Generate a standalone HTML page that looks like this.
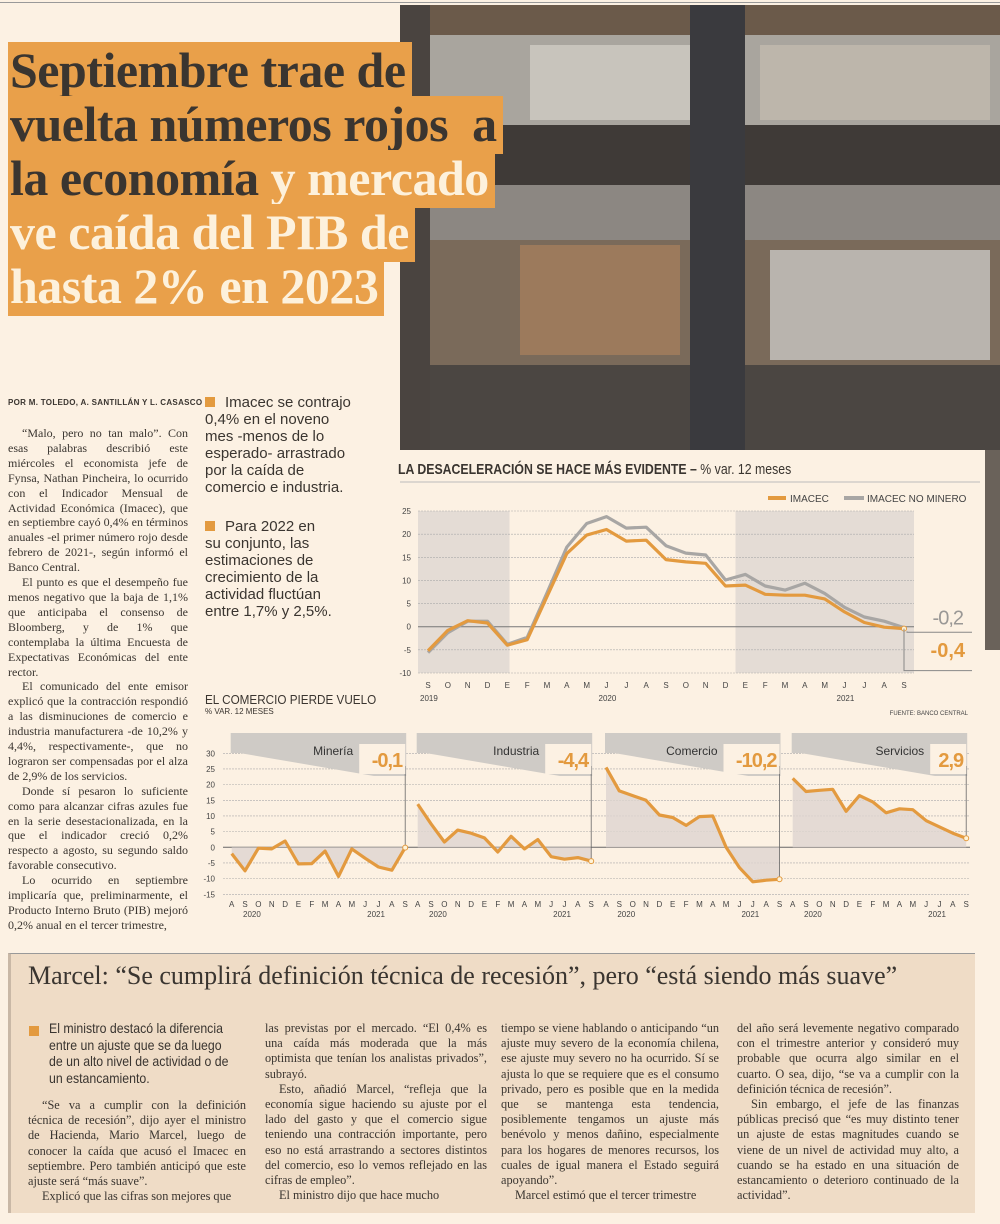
<!DOCTYPE html>
<html><head><meta charset="utf-8">
<style>
body{margin:0;width:1000px;height:1224px;background:#fcf1e3;position:relative;overflow:hidden;font-family:"Liberation Serif",serif;color:#3a3530}
.abs{position:absolute}
.ttl{position:absolute;left:8px;font:bold 50px/52px "Liberation Serif",serif;white-space:nowrap;letter-spacing:-0.5px}
.ttl span{background:#e9a04a;padding:0 6px 2px 2px}
.col{position:absolute;font-size:12px;line-height:14.9px;text-align:justify;color:#3a3530}
.col p{margin:0;text-indent:14px}
.bul{position:absolute;font:15px/17px "Liberation Sans",sans-serif;color:#3a3530}
.sq{display:inline-block;width:10px;height:10px;background:#e39a3f;margin-right:10px}
</style></head><body>
<div class="abs" style="left:0;top:2px;width:1000px;height:1px;background:#999"></div>

<!-- photo -->
<div class="abs" style="left:400px;top:5px;width:600px;height:445px;background:#57524d;overflow:hidden">
 <div class="abs" style="left:0;top:0;width:600px;height:30px;background:#6b5a4a"></div>
 <div class="abs" style="left:0;top:30px;width:600px;height:90px;background:#a9a59e"></div>
 <div class="abs" style="left:130px;top:40px;width:160px;height:75px;background:#c8c4bc"></div>
 <div class="abs" style="left:360px;top:40px;width:230px;height:75px;background:#bdb6ab"></div>
 <div class="abs" style="left:0;top:120px;width:600px;height:60px;background:#3f3a37"></div>
 <div class="abs" style="left:0;top:180px;width:600px;height:55px;background:#8c8782"></div>
 <div class="abs" style="left:0;top:235px;width:600px;height:125px;background:#7a6a5a"></div>
 <div class="abs" style="left:120px;top:240px;width:160px;height:110px;background:#9c7a5c"></div>
 <div class="abs" style="left:370px;top:245px;width:220px;height:110px;background:#b9b4ae"></div>
 <div class="abs" style="left:0;top:360px;width:600px;height:85px;background:#4b4642"></div>
 <div class="abs" style="left:290px;top:0;width:55px;height:445px;background:#3a3a3e"></div>
 <div class="abs" style="left:0;top:0;width:30px;height:445px;background:#4a4440"></div>
</div>
<div class="abs" style="left:985px;top:450px;width:15px;height:200px;background:#6a625a"></div>

<!-- title -->
<div class="ttl" style="top:44px"><span>Septiembre trae de</span></div>
<div class="ttl" style="top:98px"><span>vuelta números rojos &nbsp;a</span></div>
<div class="ttl" style="top:152px"><span>la economía <b style="color:#fdf1dc">y mercado</b></span></div>
<div class="ttl" style="top:206px;color:#fdf1dc"><span>ve caída del PIB de</span></div>
<div class="ttl" style="top:260px;color:#fdf1dc"><span>hasta 2% en 2023</span></div>

<!-- byline & left column -->
<div class="abs" style="left:8px;top:398px;font:bold 8px 'Liberation Sans',sans-serif;letter-spacing:.3px">POR M. TOLEDO, A. SANTILLÁN Y L. CASASCO</div>
<div class="col" style="left:8px;top:426px;width:180px">
<p>“Malo, pero no tan malo”. Con esas palabras describió este miércoles el economista jefe de Fynsa, Nathan Pincheira, lo ocurrido con el Indicador Mensual de Actividad Económica (Imacec), que en septiembre cayó 0,4% en términos anuales -el primer número rojo desde febrero de 2021-, según informó el Banco Central.</p>
<p>El punto es que el desempeño fue menos negativo que la baja de 1,1% que anticipaba el consenso de Bloomberg, y de 1% que contemplaba la última Encuesta de Expectativas Económicas del ente rector.</p>
<p>El comunicado del ente emisor explicó que la contracción respondió a las disminuciones de comercio e industria manufacturera -de 10,2% y 4,4%, respectivamente-, que no lograron ser compensadas por el alza de 2,9% de los servicios.</p>
<p>Donde sí pesaron lo suficiente como para alcanzar cifras azules fue en la serie desestacionalizada, en la que el indicador creció 0,2% respecto a agosto, su segundo saldo favorable consecutivo.</p>
<p>Lo ocurrido en septiembre implicaría que, preliminarmente, el Producto Interno Bruto (PIB) mejoró 0,2% anual en el tercer trimestre,</p>
</div>

<div class="bul" style="left:205px;top:394px;width:185px"><span class="sq"></span>Imacec se contrajo<br>0,4% en el noveno<br>mes -menos de lo<br>esperado- arrastrado<br>por la caída de<br>comercio e industria.</div>
<div class="bul" style="left:205px;top:518px;width:185px"><span class="sq"></span>Para 2022 en<br>su conjunto, las<br>estimaciones de<br>crecimiento de la<br>actividad fluctúan<br>entre 1,7% y 2,5%.</div>

<!-- main chart -->
<div class="abs" style="left:398px;top:461px;font:bold 15px 'Liberation Sans',sans-serif;color:#3a3530;transform:scaleX(.82);transform-origin:left;white-space:nowrap">LA DESACELERACIÓN SE HACE MÁS EVIDENTE – <span style="font-weight:normal">% var. 12 meses</span></div>
<svg id="main" class="abs" style="left:395px;top:480px" width="605" height="240"></svg>

<div class="abs" style="left:205px;top:692px;font:13px 'Liberation Sans',sans-serif;transform:scaleX(.9);transform-origin:left;white-space:nowrap">EL COMERCIO PIERDE VUELO</div>
<div class="abs" style="left:205px;top:707px;font:8px 'Liberation Sans',sans-serif">% VAR. 12 MESES</div>
<svg id="small" class="abs" style="left:195px;top:720px" width="800" height="210"></svg>

<!-- bottom box -->
<div class="abs" style="left:8px;top:953px;width:964px;height:259px;background:#efdcc6;border-left:3px solid #c9b8a6;border-top:1px solid #999">
 <div class="abs" style="left:17px;top:7px;font:26px 'Liberation Serif',serif;white-space:nowrap;color:#3a3530">Marcel: “Se cumplirá definición técnica de recesión”, pero “está siendo más suave”</div>
 <div class="abs" style="left:18px;top:72px;width:10px;height:10px;background:#e39a3f"></div>
 <div class="bul" style="left:38px;top:66px;font-size:14px;line-height:16.5px;white-space:nowrap;transform:scaleX(.88);transform-origin:left">El ministro destacó la diferencia<br>entre un ajuste que se da luego<br>de un alto nivel de actividad o de<br>un estancamiento.</div>
 <div class="col" style="left:17px;top:144px;width:218px;font-size:12.3px;line-height:15.2px"><p>“Se va a cumplir con la definición técnica de recesión”, dijo ayer el ministro de Hacienda, Mario Marcel, luego de conocer la caída que acusó el Imacec en septiembre. Pero también anticipó que este ajuste será “más suave”.</p><p>Explicó que las cifras son mejores que</p></div>
 <div class="col" style="left:254px;top:67px;width:222px;font-size:12.3px;line-height:15.2px"><p style="text-indent:0">las previstas por el mercado. “El 0,4% es una caída más moderada que la más optimista que tenían los analistas privados”, subrayó.</p><p>Esto, añadió Marcel, “refleja que la economía sigue haciendo su ajuste por el lado del gasto y que el comercio sigue teniendo una contracción importante, pero eso no está arrastrando a sectores distintos del comercio, eso lo vemos reflejado en las cifras de empleo”.</p><p>El ministro dijo que hace mucho</p></div>
 <div class="col" style="left:490px;top:67px;width:218px;font-size:12.3px;line-height:15.2px"><p style="text-indent:0">tiempo se viene hablando o anticipando “un ajuste muy severo de la economía chilena, ese ajuste muy severo no ha ocurrido. Sí se ajusta lo que se requiere que es el consumo privado, pero es posible que en la medida que se mantenga esta tendencia, posiblemente tengamos un ajuste más benévolo y menos dañino, especialmente para los hogares de menores recursos, los cuales de igual manera el Estado seguirá apoyando”.</p><p>Marcel estimó que el tercer trimestre</p></div>
 <div class="col" style="left:726px;top:67px;width:222px;font-size:12.3px;line-height:15.2px"><p style="text-indent:0">del año será levemente negativo comparado con el trimestre anterior y consideró muy probable que ocurra algo similar en el cuarto. O sea, dijo, “se va a cumplir con la definición técnica de recesión”.</p><p>Sin embargo, el jefe de las finanzas públicas precisó que “es muy distinto tener un ajuste de estas magnitudes cuando se viene de un nivel de actividad muy alto, a cuando se ha estado en una situación de estancamiento o deterioro continuado de la actividad”.</p></div>
</div>

<script>
// ---- main chart data ----
const mainMonths = ["S","O","N","D","E","F","M","A","M","J","J","A","S","O","N","D","E","F","M","A","M","J","J","A","S"];
const imacec = [-5.2,-0.8,1.3,0.8,-4,-2.8,6.5,15.8,19.8,21,18.5,18.7,14.5,14,13.7,8.8,9,7,6.8,6.8,6,3.2,0.9,-0.1,-0.4];
const imacecNoMinero = [-5.6,-1.3,1.2,1.2,-3.8,-2.3,7.3,17.2,22.3,23.8,21.3,21.5,17.5,15.9,15.5,10.1,11.3,8.8,7.9,9.4,7.2,4.2,2.1,1.2,-0.2];
const mainTicks = [25,20,15,10,5,0,-5,-10];
const mainYears = [["2019",0],["2020",9],["2021",21]];

// ---- small multiples data ----
const smallMonths = ["A","S","O","N","D","E","F","M","A","M","J","J","A","S"];
const sectorNames = ["Minería","Industria","Comercio","Servicios"];
const sectorLast = ["-0,1","-4,4","-10,2","2,9"];
const mineria = [-2,-7.5,-0.3,-0.5,2,-5.3,-5.2,-1.2,-9.3,-0.5,-3.5,-6.3,-7.3,-0.1];
const industria = [13.8,7.5,1.7,5.5,4.5,3,-1.5,3.5,-0.5,2.5,-3,-3.8,-3.3,-4.4];
const comercio = [25.5,18,16.5,15,10.3,9.5,7,9.8,10,0,-6.5,-11,-10.5,-10.2];
const servicios = [22,17.8,18.2,18.5,11.5,16.5,14.5,11,12.3,12,8.5,6.5,4.5,2.9];
const smallTicks = [30,25,20,15,10,5,0,-5,-10,-15];

const NS="http://www.w3.org/2000/svg";
function mk(parent,tag,attrs,name){const e=document.createElementNS(NS,tag);for(const k in attrs)e.setAttribute(k,attrs[k]);


parent.appendChild(e);return e;}
function txt(parent,x,y,s,attrs,name){const t=mk(parent,'text',Object.assign({x:x,y:y},attrs),name);t.textContent=s;return t;}

// main chart (svg origin 395,480)
(function(){
 const svg=document.getElementById('main');
 const x0=33,x1=509; const xs=i=>x0+(x1-x0)*i/(mainMonths.length-1);
 const ys=v=>31+(v-25)*(193-31)/(-35);
 mk(svg,'line',{x1:5,y1:2,x2:585,y2:2,stroke:'#bbb','stroke-width':1},'title-rule');
 mk(svg,'rect',{x:x0-10,y:ys(25),width:xs(3)-x0+32,height:ys(-10)-ys(25),fill:'#e4dcd5'},'shade-2019');
 mk(svg,'rect',{x:xs(15)+10,y:ys(25),width:x1+10-xs(15)-10,height:ys(-10)-ys(25),fill:'#e4dcd5'},'shade-2021');
 mainTicks.forEach(t=>{
  mk(svg,'line',{x1:x0-10,x2:x1+10,y1:ys(t),y2:ys(t),stroke:t===0?'#777':'#aaa','stroke-width':t===0?1:0.6,'stroke-dasharray':t===0?'':'2,1'},'gridline');
  txt(svg,16,ys(t)+3,t,{'font-size':8,'font-family':'Liberation Sans','text-anchor':'end',fill:'#444'},'y-tick-label');
 });
 mainMonths.forEach((m,i)=>txt(svg,xs(i),ys(-10)+15,m,{'font-size':8,'font-family':'Liberation Sans','text-anchor':'middle',fill:'#444'},'x-tick-label'));
 mainYears.forEach(y=>txt(svg,xs(y[1])-8,ys(-10)+28,y[0],{'font-size':8,'font-family':'Liberation Sans',fill:'#444'},'year-label'));
 const path=a=>a.map((v,i)=>(i?'L':'M')+xs(i).toFixed(1)+','+ys(v).toFixed(1)).join('');
 mk(svg,'path',{d:path(imacecNoMinero),fill:'none',stroke:'#a8a6a4','stroke-width':3.2,'stroke-linejoin':'round'},'imacec-no-minero-line');
 mk(svg,'path',{d:path(imacec),fill:'none',stroke:'#e39a3f','stroke-width':3.2,'stroke-linejoin':'round'},'imacec-line');
 const L=imacec.length-1;
 mk(svg,'circle',{cx:xs(L),cy:ys(imacec[L]),r:2.5,fill:'#fff3d8',stroke:'#e39a3f'},'last-point');
 mk(svg,'polyline',{points:`${xs(L)+3},${ys(-1)} ${xs(L)+3},${ys(-1.2)} ${577},${ys(-1.2)}`,fill:'none',stroke:'#888'},'leader-gray');
 mk(svg,'polyline',{points:`${xs(L)},${ys(imacec[L])} ${xs(L)},${ys(-9.5)} ${577},${ys(-9.5)}`,fill:'none',stroke:'#888'},'leader-orange');
 txt(svg,568,ys(0)-2,'-0,2',{'font-size':20,'font-family':'Liberation Sans','text-anchor':'end',fill:'#9a9896',style:'letter-spacing:-1px'},'value-no-minero');
 txt(svg,570,ys(-7)-2,'-0,4',{'font-size':20,'font-weight':'bold','font-family':'Liberation Sans','text-anchor':'end',fill:'#e39a3f'},'value-imacec');
 mk(svg,'line',{x1:373,x2:391,y1:18,y2:18,stroke:'#e39a3f','stroke-width':4},'legend-swatch-imacec');
 txt(svg,395,22,'IMACEC',{'font-size':10,'font-family':'Liberation Sans',fill:'#444'},'legend-imacec');
 mk(svg,'line',{x1:449,x2:469,y1:18,y2:18,stroke:'#a8a6a4','stroke-width':4},'legend-swatch-no-minero');
 txt(svg,472,22,'IMACEC NO MINERO',{'font-size':10,'font-family':'Liberation Sans',fill:'#444'},'legend-no-minero');
 txt(svg,573,235,'FUENTE: BANCO CENTRAL',{'font-size':6,'font-family':'Liberation Sans','text-anchor':'end',fill:'#444'},'source-note');
})();

// small multiples (svg origin 195,720)
(function(){
 const svg=document.getElementById('small');
 const series=[mineria,industria,comercio,servicios];
 const starts=[36.7,222.7,411,597.7], w=173.5;
 const ys=v=>127.3-v*(127.3-33.3)/30;
 smallTicks.forEach(t=>{
  mk(svg,'line',{x1:28,x2:775,y1:ys(t),y2:ys(t),stroke:t===0?'#666':'#aaa','stroke-width':t===0?1:0.6,'stroke-dasharray':t===0?'':'2,1'},'small-gridline');
  txt(svg,20,ys(t)+3,t,{'font-size':8,'font-family':'Liberation Sans','text-anchor':'end',fill:'#444'},'small-y-tick');
 });
 series.forEach((s,k)=>{
  const x0=starts[k]; const xs=i=>x0+w*i/(smallMonths.length-1);
  const L=s.length-1;
  mk(svg,'polygon',{points:`${x0-1},13 ${x0+w+1},13 ${x0+w+1},56 ${x0+w*0.82},56 ${x0+8},33 ${x0-1},33`,fill:'#cfcbc6'},'sector-header');
  const area='M'+xs(0)+','+ys(0)+s.map((v,i)=>'L'+xs(i).toFixed(1)+','+ys(v).toFixed(1)).join('')+'L'+xs(L)+','+ys(0)+'Z';
  mk(svg,'path',{d:area,fill:'#ddd5cf',opacity:0.8},'sector-area');
  mk(svg,'line',{x1:xs(L),x2:xs(L),y1:46,y2:ys(s[L]),stroke:'#666','stroke-width':0.8},'sector-leader');
  mk(svg,'path',{d:s.map((v,i)=>(i?'L':'M')+xs(i).toFixed(1)+','+ys(v).toFixed(1)).join(''),fill:'none',stroke:'#e39a3f','stroke-width':3.2,'stroke-linejoin':'round'},'sector-line');
  mk(svg,'circle',{cx:xs(L),cy:ys(s[L]),r:2.5,fill:'#fff3d8',stroke:'#e39a3f'},'sector-last-point');
  const lw=sectorLast[k].length*10+6;
  mk(svg,'rect',{x:xs(L)-lw,y:24,width:lw,height:30,fill:'#fcf1e3'},'sector-value-box');
  txt(svg,xs(L)-3,47,sectorLast[k],{'font-size':20,'font-weight':'bold','font-family':'Liberation Sans','text-anchor':'end',fill:'#e39a3f',style:'letter-spacing:-1px'},'sector-value');
  txt(svg,xs(L)-lw-6,35,sectorNames[k],{'font-size':12,'font-family':'Liberation Sans','text-anchor':'end',fill:'#333'},'sector-name');
  smallMonths.forEach((m,i)=>txt(svg,xs(i),187,m,{'font-size':8,'font-family':'Liberation Sans','text-anchor':'middle',fill:'#444'},'small-x-tick'));
  txt(svg,xs(1)-2,197,'2020',{'font-size':8,'font-family':'Liberation Sans',fill:'#444'},'small-year');
  txt(svg,xs(10)+2,197,'2021',{'font-size':8,'font-family':'Liberation Sans',fill:'#444'},'small-year');
 });
})();
</script>
</body></html>
